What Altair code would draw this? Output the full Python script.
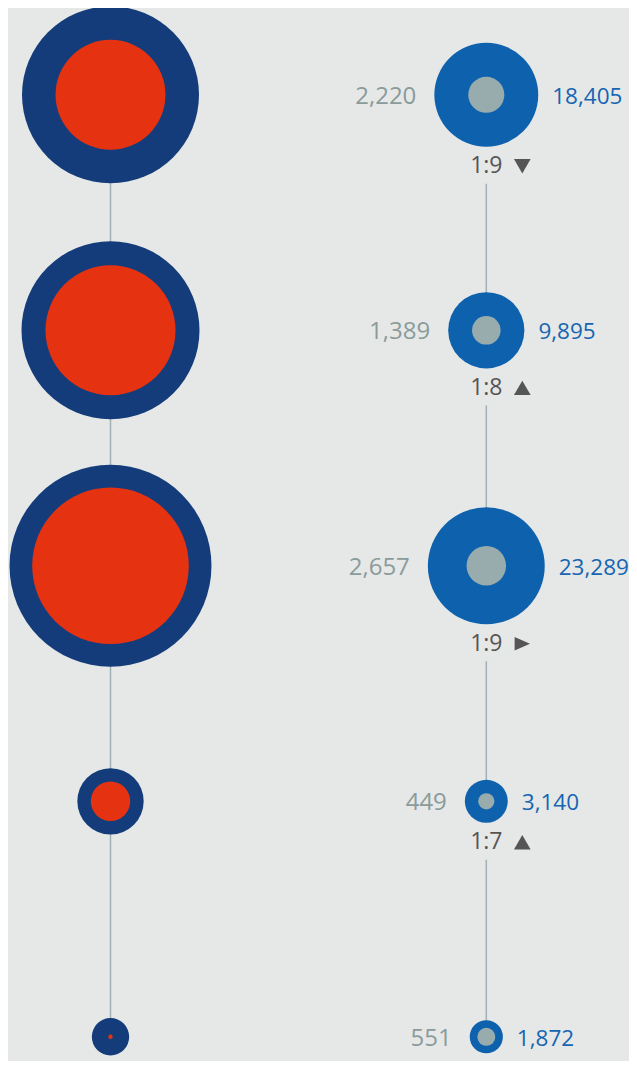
import altair as alt
import pandas as pd

# ---- data ----
rows = [0, 1, 2, 3, 4]
left_outer = [53400, 54000, 69500, 7500, 2380]
left_inner = [20600, 28800, 41800, 2650, 33]
right_outer = [18405, 9895, 23289, 3140, 1872]
right_inner = [2220, 1389, 2657, 449, 551]
ratio_labels = ["1:9", "1:8", "1:9", "1:7", "1:4"]
trend = ["down", "up", "right", "up", "right"]

# ---- styling / layout ----
BG = "#e6e8e7"
NAVY = "#143c7a"
RED = "#e53312"
BLUE = "#0e62ad"
INNER_GRAY = "#98acae"
GRAY_TXT = "#8a9b9b"
BLUE_TXT = "#1565b2"
RATIO_TXT = "#555555"
LINE = "#9fb1b5"
FONT = "Open Sans"

W, H = 621, 1053
Y_RANGE = [86.8, 1028.8]
X_RANGE = [102.5, 478.3]
PX_ROW = (Y_RANGE[1] - Y_RANGE[0]) / 4
PX_COL = X_RANGE[1] - X_RANGE[0]
K = 0.383                       # radius (px) per sqrt(value)
AREA_PER_UNIT = 4 * K * K       # vega symbol size = (2r)^2
SIZE_MAX = 70000

left = pd.DataFrame({"row": rows, "col": 0, "outer": left_outer, "inner": left_inner})
right = pd.DataFrame({"row": rows, "col": 1, "outer": right_outer, "inner": right_inner,
                      "ratio": ratio_labels, "trend": trend})

xs = alt.Scale(domain=[0, 1], range=X_RANGE)
ys = alt.Scale(domain=[0, 4], range=Y_RANGE)
ss = alt.Scale(type="linear", zero=True, domain=[0, SIZE_MAX], range=[0, SIZE_MAX * AREA_PER_UNIT])

X = alt.X("col:Q", scale=xs, axis=None)
Y = alt.Y("row:Q", scale=ys, axis=None)
R_EXPR = f"sqrt(datum.outer * {AREA_PER_UNIT}) / 2"

left_line = alt.Chart(left).mark_rule(color=LINE, strokeWidth=1.5).encode(
    x=X,
    y=alt.Y("min(row):Q", scale=ys, axis=None),
    y2="max(row):Q",
)

right_lines = alt.Chart(right).transform_calculate(
    r=R_EXPR
).transform_calculate(
    ystart=f"datum.row + (datum.r + 37) / {PX_ROW}",
    yend="datum.row + 1",
).transform_filter("datum.row < 4").mark_rule(color=LINE, strokeWidth=1.5).encode(
    x=X,
    y=alt.Y("ystart:Q", scale=ys, axis=None),
    y2="yend:Q",
)


def circles(df, field, color):
    return alt.Chart(df).mark_circle(opacity=1, color=color).encode(
        x=X, y=Y, size=alt.Size(f"{field}:Q", scale=ss, legend=None)
    )


left_outer_c = circles(left, "outer", NAVY)
left_inner_c = circles(left, "inner", RED)
right_outer_c = circles(right, "outer", BLUE)
right_inner_c = circles(right, "inner", INNER_GRAY)

gray_labels = alt.Chart(right).transform_calculate(
    r=R_EXPR
).transform_calculate(
    lx=f"datum.col - (datum.r + 18) / {PX_COL}"
).mark_text(align="right", baseline="middle", font=FONT, fontSize=24, color=GRAY_TXT, dy=2).encode(
    x=alt.X("lx:Q", scale=xs, axis=None), y=Y, text=alt.Text("inner:Q", format=",")
)

blue_labels = alt.Chart(right).transform_calculate(
    r=R_EXPR
).transform_calculate(
    lx=f"datum.col + (datum.r + 14) / {PX_COL}"
).mark_text(align="left", baseline="middle", font=FONT, fontSize=22.5, color=BLUE_TXT, dy=2).encode(
    x=alt.X("lx:Q", scale=xs, axis=None), y=Y, text=alt.Text("outer:Q", format=",")
)

ratio_base = alt.Chart(right).transform_calculate(
    r=R_EXPR
).transform_calculate(
    ly=f"datum.row + (datum.r + 19.5) / {PX_ROW}"
)

ratio_text = ratio_base.mark_text(align="center", baseline="middle", font=FONT, fontSize=23,
                                  color=RATIO_TXT).encode(
    x=X, y=alt.Y("ly:Q", scale=ys, axis=None), text="ratio:N"
)

TRI_DOWN = "M-1,-0.86L1,-0.86L0,0.86Z"
TRI_UP = "M-1,0.86L1,0.86L0,-0.86Z"
TRI_RIGHT = "M-0.92,-0.8L0.92,0L-0.92,0.8Z"

ratio_tri = ratio_base.mark_point(filled=True, opacity=1, size=279, color=RATIO_TXT,
                                  strokeWidth=0, xOffset=36).encode(
    x=X, y=alt.Y("ly:Q", scale=ys, axis=None),
    shape=alt.Shape("trend:N", scale=alt.Scale(domain=["down", "up", "right"],
                                               range=[TRI_DOWN, TRI_UP, TRI_RIGHT]), legend=None),
)

chart = alt.layer(
    left_line, right_lines,
    left_outer_c, left_inner_c, right_outer_c, right_inner_c,
    gray_labels, blue_labels, ratio_text, ratio_tri,
).properties(
    width=W, height=H, background=BG, padding=0, autosize="none"
).configure_view(stroke=None)

chart.save("out.html", embed_options={"renderer": "svg", "actions": False})
